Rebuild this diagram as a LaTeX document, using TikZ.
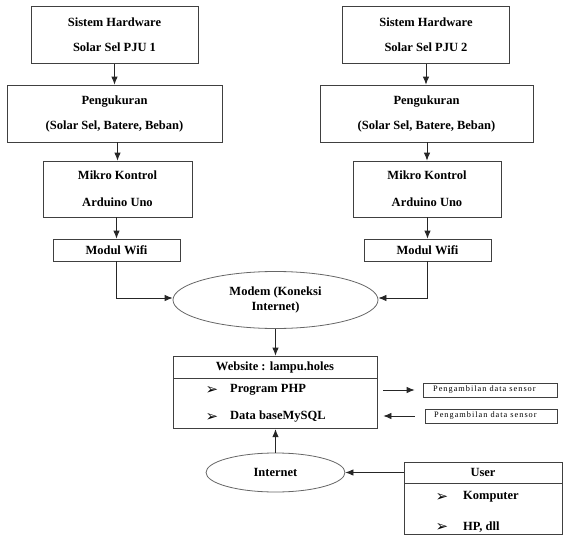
\documentclass[tikz,border=0pt]{standalone}
\usepackage{fontspec}
\setmainfont{Liberation Serif}
\newfontfamily\symf{DejaVu Sans}
\newfontfamily\tinyf{Liberation Serif}[LetterSpace=12]
\usetikzlibrary{arrows.meta,shapes.geometric}
\begin{document}
\begin{tikzpicture}[x=1pt,y=-1pt,
  every node/.style={font=\fontsize{12.5}{15}\selectfont\bfseries},
  box/.style={draw=black!75, line width=0.8pt, rectangle, inner sep=0pt, align=center},
  oval/.style={draw=black!60, line width=0.8pt, ellipse, inner sep=0pt, align=center},
  conn/.style={draw=black!85, line width=0.8pt},
  arr/.style={conn, -{Latex[length=8pt,width=6.5pt]}},
  txt/.style={inner sep=0pt, anchor=west},
  bul/.style={inner sep=0pt, font=\symf\fontsize{15}{15}\selectfont},
  tiny/.style={inner sep=0pt, anchor=west, font=\tinyf\fontsize{8.3}{9}\selectfont}
]
\useasboundingbox (0,0) rectangle (563,538);
% left column
\node[box, minimum width=167, minimum height=57] (L1) at (114.5,35) {Sistem Hardware\\[10pt]Solar Sel PJU 1};
\node[box, minimum width=215, minimum height=57] (L2) at (114.5,113.5) {Pengukuran\\[10pt](Solar Sel, Batere, Beban)};
\node[box, minimum width=149, minimum height=56] (L3) at (117.5,189) {Mikro Kontrol\\[12pt]Arduino Uno};
\node[box, minimum width=127, minimum height=22] (L4) at (116.5,250) {Modul Wifi};
% right column
\node[box, minimum width=167, minimum height=57] (R1) at (426,35) {Sistem Hardware\\[10pt]Solar Sel PJU 2};
\node[box, minimum width=213, minimum height=57] (R2) at (426.5,113.5) {Pengukuran\\[10pt](Solar Sel, Batere, Beban)};
\node[box, minimum width=148, minimum height=56] (R3) at (427,189) {Mikro Kontrol\\[12pt]Arduino Uno};
\node[box, minimum width=127, minimum height=22] (R4) at (427.5,250) {Modul Wifi};
% modem
\node[oval, minimum width=205, minimum height=57] (modem) at (275.5,300) {\fontsize{12.5}{12}\selectfont Modem (Koneksi\\Internet)};
% website
\node[box, minimum width=204, minimum height=22] (webh) at (275,367) {Website : lampu.holes};
\node[box, minimum width=204, minimum height=50, anchor=north] (webb) at (webh.south) {};
\node[bul] (wb1) at (212,390) {➢};
\node[txt] (wt1) at (230,390) {Program PHP};
\node[bul] (wb2) at (212,417) {➢};
\node[txt] (wt2) at (230,417) {Data baseMySQL};
% small boxes
\node[box, minimum width=134, minimum height=14] (s1) at (490,390) {};
\node[tiny] (s1t) at (433,389.5) {Pengambilan data sensor};
\node[box, minimum width=132, minimum height=14] (s2) at (491,416) {};
\node[tiny] (s2t) at (434,415.5) {Pengambilan data sensor};
% internet
\node[oval, minimum width=139, minimum height=39] (inet) at (275.5,472.5) {Internet};
% user
\node[box, minimum width=158, minimum height=21] (userh) at (483,472.5) {User};
\node[box, minimum width=158, minimum height=51, anchor=north] (userb) at (userh.south) {};
\node[bul] (ub1) at (442,497) {➢};
\node[txt] (ut1) at (463,497) {Komputer};
\node[bul] (ub2) at (442,527) {➢};
\node[txt] (ut2) at (463,527) {HP, dll};
% connectors
\draw[arr] (L1.south) -- (L1.south |- L2.north);
\draw[arr] (L2.south -| L3.north) -- (L3.north);
\draw[arr] (L3.south -| L4.north) -- (L4.north);
\draw[arr] (R1.south) -- (R1.south |- R2.north);
\draw[arr] (R2.south -| R3.north) -- (R3.north);
\draw[arr] (R3.south -| R4.north) -- (R4.north);
\draw[arr] (L4.south) |- ([yshift=2]modem.west);
\draw[arr] (R4.south) |- ([yshift=2]modem.east);
\draw[arr] (modem.south) -- (modem.south |- webh.north);
\coordinate (a1) at ([xshift=6]webb.east |- s1.west);
\coordinate (a2) at ([xshift=6]webb.east |- s2.west);
\draw[arr] (a1) -- ([xshift=-8]s1.west);
\draw[arr] ([xshift=-10]s2.west) -- (a2);
\draw[arr] (inet.north) -- (inet.north |- webb.south);
\draw[arr] (userh.west) -- (inet.east);
\end{tikzpicture}
\end{document}
